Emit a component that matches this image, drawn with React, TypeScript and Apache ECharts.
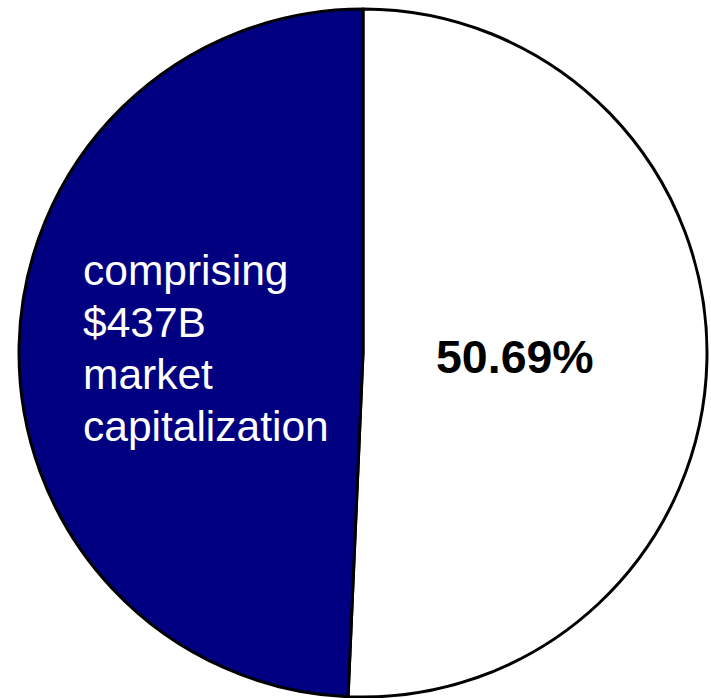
import React, { useEffect, useRef } from "react";
import * as echarts from "echarts";

const categories = ["Remaining", "Comprising"];
const shares = [50.69, 49.31];
const colors = ["#FFFFFF", "#000080"];
const leftLabelLines = ["comprising", "$437B", "market", "capitalization"];

export default function App() {
  const ref = useRef<HTMLDivElement>(null);
  useEffect(() => {
    if (!ref.current) return;
    const chart = echarts.init(ref.current, undefined, { renderer: "svg" });
    const total = shares.reduce((a, b) => a + b, 0);
    const pct = ((shares[0] / total) * 100).toFixed(2) + "%";
    chart.setOption({
      animation: false,
      backgroundColor: "#FFFFFF",
      series: [
        {
          type: "pie",
          center: [363, 353],
          radius: [0, 344],
          startAngle: 90,
          clockwise: true,
          silent: true,
          z: 1,
          label: { show: false },
          labelLine: { show: false },
          itemStyle: { borderColor: "#000000", borderWidth: 3 },
          data: categories.map((c, i) => ({
            name: c,
            value: shares[i],
            itemStyle: { color: colors[i] },
          })),
        },
      ],
      graphic: [
        {
          type: "text",
          left: 436,
          top: 333,
          z: 100,
          style: {
            text: pct,
            fill: "#000000",
            fontFamily: "'Liberation Sans', Arial, sans-serif",
            fontSize: 46.5,
            fontWeight: "bold",
          },
        },
        {
          type: "text",
          left: 83,
          top: 244,
          z: 100,
          style: {
            text: leftLabelLines.join("\n"),
            fill: "#FFFFFF",
            fontFamily: "'Liberation Sans', Arial, sans-serif",
            fontSize: 42.5,
            lineHeight: 52,
          },
        },
      ],
    });
    return () => chart.dispose();
  }, []);
  return (
    <div
      ref={ref}
      style={{ position: "fixed", left: 0, top: 0, width: 711, height: 698 }}
    />
  );
}
